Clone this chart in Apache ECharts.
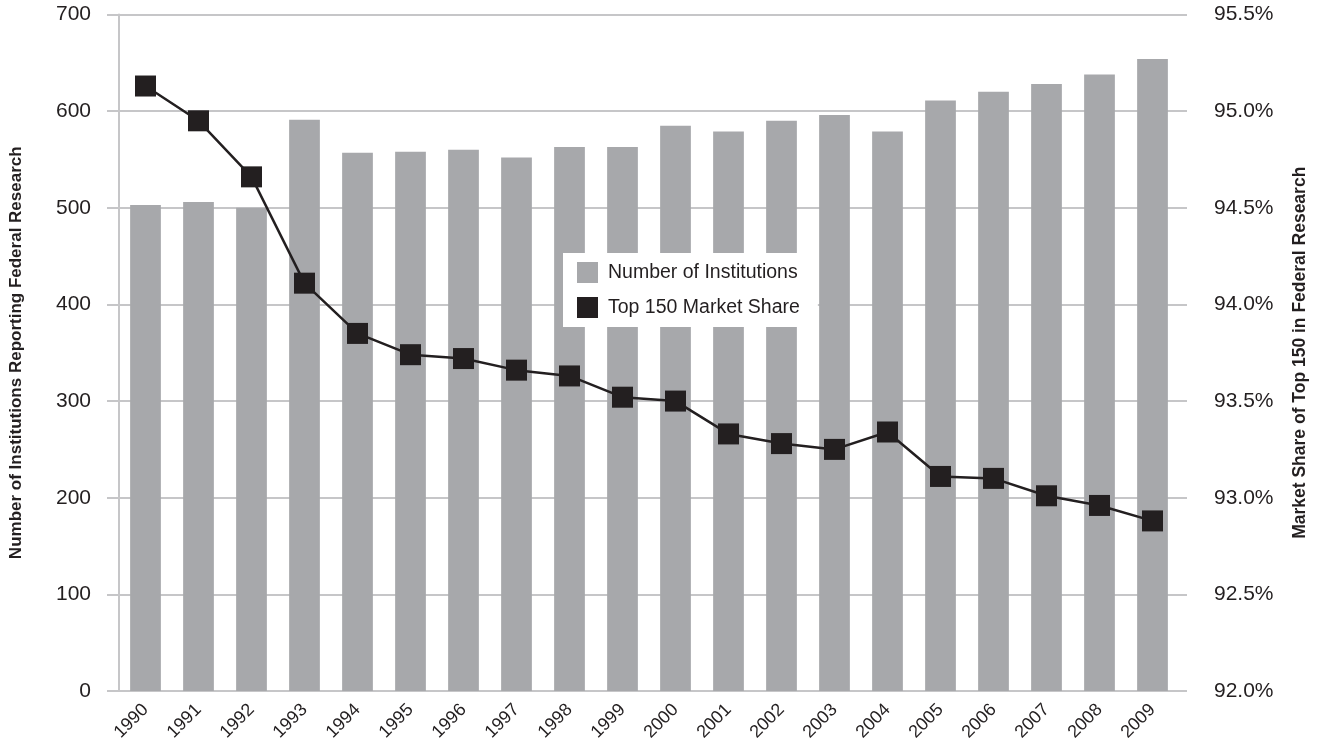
<!DOCTYPE html>
<html>
<head>
<meta charset="utf-8">
<script src="https://cdn.jsdelivr.net/npm/echarts@6/dist/echarts.min.js"></script>
<style>
  html, body { margin: 0; padding: 0; background: #fff; }
  #chart { width: 1317px; height: 747px; }
</style>
</head>
<body>
<div id="chart"></div>
<script>
// 年份 / 数据
var years = ['1990', '1991', '1992', '1993', '1994', '1995', '1996', '1997', '1998', '1999',
             '2000', '2001', '2002', '2003', '2004', '2005', '2006', '2007', '2008', '2009'];
var institutions = [503, 506, 500, 591, 557, 558, 560, 552, 563, 563,
                    585, 579, 590, 596, 579, 611, 620, 628, 638, 654];
var marketShare = [95.13, 94.95, 94.66, 94.11, 93.85, 93.74, 93.72, 93.66, 93.63, 93.52,
                   93.50, 93.33, 93.28, 93.25, 93.34, 93.11, 93.10, 93.01, 92.96, 92.88];

var font = 'Liberation Sans, Arial, sans-serif';
var gridGray = '#c6c6c8';
var ink = '#231f20';

var myChart = echarts.init(document.getElementById('chart'));

var option = {
    animation: false,
    textStyle: { fontFamily: font },
    grid: { left: 118, right: 132, top: 14.5, bottom: 56 },
    legend: {
        orient: 'vertical',
        left: 563,
        top: 253,
        padding: [9, 18, 9, 14],
        itemGap: 14,
        itemWidth: 21,
        itemHeight: 21,
        icon: 'rect',
        backgroundColor: '#fff',
        textStyle: { fontFamily: font, fontSize: 19.5, color: ink, padding: [0, 0, 0, 5] },
        data: ['Number of Institutions', 'Top 150 Market Share']
    },
    xAxis: {
        type: 'category',
        data: years,
        axisLine: { lineStyle: { color: gridGray, width: 2 } },
        axisTick: { show: false },
        axisLabel: { rotate: 45, fontSize: 18, color: ink, margin: 16, fontFamily: font }
    },
    yAxis: [{
        type: 'value',
        min: 0,
        max: 700,
        interval: 100,
        name: 'Number of Institutions Reporting Federal Research',
        nameLocation: 'middle',
        nameRotate: 90,
        nameGap: 94,
        nameTextStyle: { fontFamily: font, fontWeight: 'bold', fontSize: 17, color: ink },
        axisLine: { show: true, lineStyle: { color: gridGray, width: 2 } },
        axisTick: { show: true, length: 12, lineStyle: { color: gridGray, width: 2 } },
        axisLabel: { fontSize: 21, color: ink, margin: 28, fontFamily: font },
        splitLine: { lineStyle: { color: gridGray, width: 2 } }
    }, {
        type: 'value',
        min: 92,
        max: 95.5,
        interval: 0.5,
        position: 'right',
        name: 'Market Share of Top 150 in Federal Research',
        nameLocation: 'middle',
        nameRotate: 90,
        nameGap: 112,
        nameTextStyle: { fontFamily: font, fontWeight: 'bold', fontSize: 17.5, color: ink },
        axisLine: { show: false },
        axisTick: { show: true, length: 8, lineStyle: { color: gridGray, width: 2 } },
        axisLabel: {
            fontSize: 21, color: ink, margin: 35, fontFamily: font,
            formatter: function (v) { return v.toFixed(1) + '%'; }
        },
        splitLine: { show: false }
    }],
    series: [{
        name: 'Number of Institutions',
        type: 'bar',
        data: institutions,
        barWidth: '58%',
        itemStyle: { color: '#a7a8ab' }
    }, {
        name: 'Top 150 Market Share',
        type: 'line',
        yAxisIndex: 1,
        data: marketShare,
        symbol: 'rect',
        symbolSize: 21,
        lineStyle: { color: ink, width: 2.5 },
        itemStyle: { color: ink },
        z: 3
    }]
};
myChart.setOption(option);
</script>
</body>
</html>
